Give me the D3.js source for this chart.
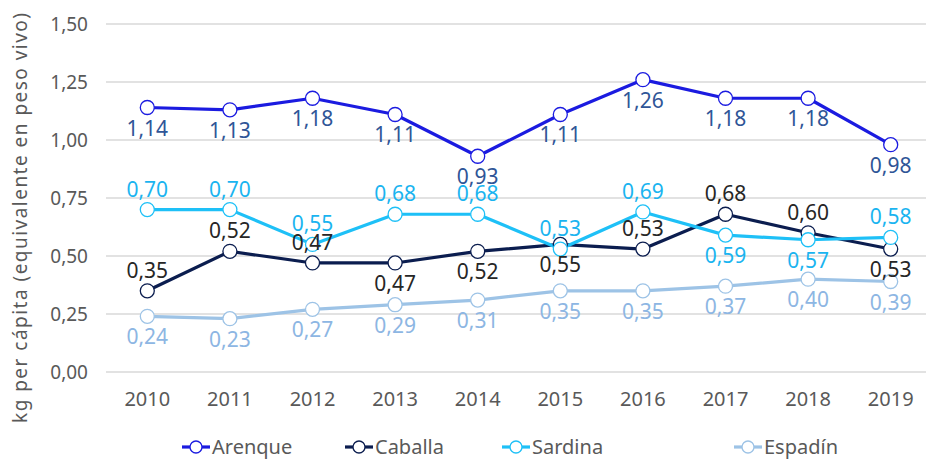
<!DOCTYPE html>
<html>
<head>
<meta charset="utf-8">
<script src="https://cdn.jsdelivr.net/npm/d3@7"></script>
<style>
  body { margin: 0; background: #fff; }
  text { font-family: "Noto Sans", sans-serif; }
</style>
</head>
<body>
<div id="chart"></div>
<script>
const years = ['2010', '2011', '2012', '2013', '2014', '2015', '2016', '2017', '2018', '2019'];
const yTicks = [0, 0.25, 0.5, 0.75, 1, 1.25, 1.5];

const arenque = [1.14, 1.13, 1.18, 1.11, 0.93, 1.11, 1.26, 1.18, 1.18, 0.98];
const caballa = [0.35, 0.52, 0.47, 0.47, 0.52, 0.55, 0.53, 0.68, 0.60, 0.53];
const sardina = [0.70, 0.70, 0.55, 0.68, 0.68, 0.53, 0.69, 0.59, 0.57, 0.58];
const espadin = [0.24, 0.23, 0.27, 0.29, 0.31, 0.35, 0.35, 0.37, 0.40, 0.39];

// where each value label sits: a = above, b = below
const arenquePos = ['b', 'b', 'b', 'b', 'b', 'b', 'b', 'b', 'b', 'b'];
const caballaPos = ['a', 'a', 'a', 'b', 'b', 'b', 'a', 'a', 'a', 'b'];
const sardinaPos = ['a', 'a', 'a', 'a', 'a', 'a', 'a', 'b', 'b', 'a'];
const espadinPos = ['b', 'b', 'b', 'b', 'b', 'b', 'b', 'b', 'b', 'b'];

const series = [
    { name: 'Arenque', values: arenque, pos: arenquePos, color: '#1b1be0', label: '#2f5597' },
    { name: 'Caballa', values: caballa, pos: caballaPos, color: '#0b1d4f', label: '#262626' },
    { name: 'Sardina', values: sardina, pos: sardinaPos, color: '#1ec0f7', label: '#1ab4f0' },
    { name: 'Espadín', values: espadin, pos: espadinPos, color: '#9dc3e6', label: '#8db6e3' }
];
const legendX = [182, 345, 502, 734];

const w = 926;
const h = 459;

const svg = d3.select('#chart')
    .append('svg')
    .attr('width', w)
    .attr('height', h);

const xScale = d3.scaleBand()
    .domain(years)
    .range([106, 932]);

const yScale = d3.scaleLinear()
    .domain([0, 1.5])
    .range([372, 24]);

const fmt = v => d3.format('.2f')(v).replace('.', ',');
const cx = i => xScale(years[i]) + xScale.bandwidth() / 2;

// grid
svg.append('g')
    .selectAll('line')
    .data(yTicks)
    .enter()
    .append('line')
    .attr('x1', 106)
    .attr('x2', 932)
    .attr('y1', d => yScale(d))
    .attr('y2', d => yScale(d))
    .attr('stroke', '#d9d9d9')
    .attr('stroke-width', 1.3);

// axes
const yAxis = d3.axisLeft(yScale).tickValues(yTicks).tickFormat(fmt).tickSize(0).tickPadding(18);
const gy = svg.append('g')
    .attr('transform', 'translate(106,0)')
    .call(yAxis);
gy.select('.domain').remove();
gy.selectAll('text')
    .style('font-size', '19px')
    .attr('fill', '#595959');

const xAxis = d3.axisBottom(xScale).tickSize(0).tickPadding(20);
const gx = svg.append('g')
    .attr('transform', 'translate(0,372)')
    .call(xAxis);
gx.select('.domain').remove();
gx.selectAll('text')
    .style('font-size', '20px')
    .attr('fill', '#595959');

svg.append('text')
    .attr('transform', 'rotate(-90)')
    .attr('x', -218)
    .attr('y', 27)
    .attr('text-anchor', 'middle')
    .style('font-size', '19px')
    .attr('textLength', 410)
    .attr('fill', '#595959')
    .text('kg per cápita (equivalente en peso vivo)');

const line = d3.line()
    .x((d, i) => cx(i))
    .y(d => yScale(d));

series.forEach(s => {
    svg.append('path')
        .datum(s.values)
        .attr('d', line)
        .attr('fill', 'none')
        .attr('stroke', s.color)
        .attr('stroke-width', 3.2)
        .attr('stroke-linejoin', 'round');
});

series.forEach(s => {
    svg.append('g')
        .selectAll('circle')
        .data(s.values)
        .enter()
        .append('circle')
        .attr('cx', (d, i) => cx(i))
        .attr('cy', d => yScale(d))
        .attr('r', 7)
        .attr('fill', '#fff')
        .attr('stroke', s.color)
        .attr('stroke-width', 1.3);
});

series.forEach(s => {
    svg.append('g')
        .selectAll('text')
        .data(s.values)
        .enter()
        .append('text')
        .attr('x', (d, i) => cx(i))
        .attr('y', (d, i) => yScale(d) + (s.pos[i] === 'a' ? -13 : 28))
        .attr('text-anchor', 'middle')
        .style('font-size', '21px')
        .attr('fill', s.label)
        .text(d => fmt(d));
});

// legend
const legend = svg.append('g')
    .selectAll('g')
    .data(series)
    .enter()
    .append('g')
    .attr('transform', (d, i) => 'translate(' + legendX[i] + ',447)');

legend.append('line')
    .attr('x1', 0)
    .attr('x2', 28)
    .attr('stroke', d => d.color)
    .attr('stroke-width', 3.2);

legend.append('circle')
    .attr('cx', 14)
    .attr('r', 6)
    .attr('fill', '#fff')
    .attr('stroke', d => d.color)
    .attr('stroke-width', 1.3);

legend.append('text')
    .attr('x', 30)
    .attr('y', 7)
    .style('font-size', '20px')
    .attr('fill', '#595959')
    .text(d => d.name);
</script>
</body>
</html>
